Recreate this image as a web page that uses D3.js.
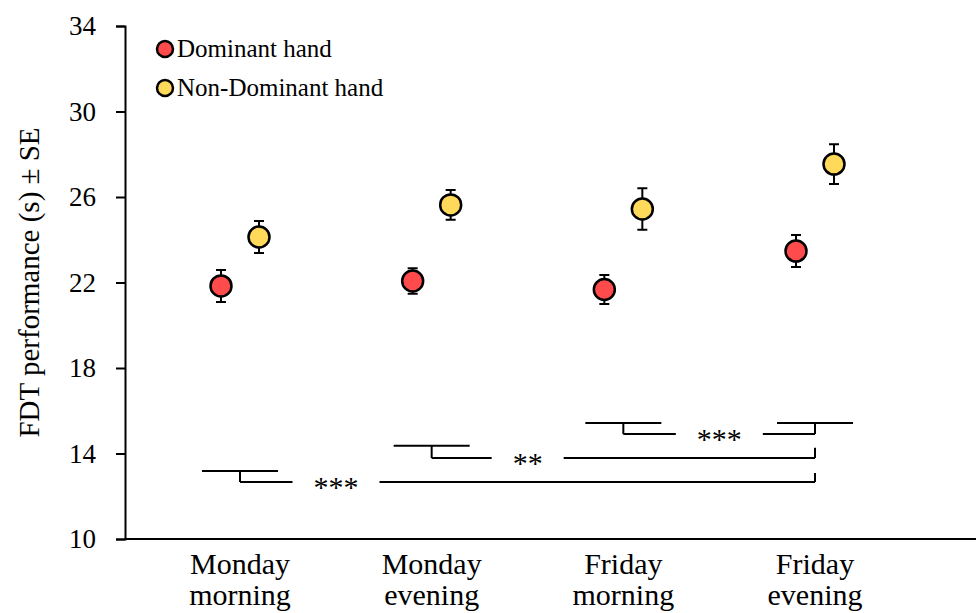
<!DOCTYPE html>
<html>
<head>
<meta charset="utf-8">
<script src="https://cdn.jsdelivr.net/npm/d3@7"></script>
<style>
  body { margin: 0; background: #fff; }
  text { font-family: "Liberation Serif", "Times New Roman", serif; fill: #000; }
</style>
</head>
<body>
<script>
	// data
	var categories = ["Monday morning", "Monday evening", "Friday morning", "Friday evening"];
	var catLines = [["Monday", "morning"], ["Monday", "evening"], ["Friday", "morning"], ["Friday", "evening"]];
	var dominantMean = [21.84, 22.07, 21.67, 23.47];
	var dominantSE = [0.75, 0.6, 0.68, 0.75];
	var nonDominantMean = [24.13, 25.63, 25.44, 27.54];
	var nonDominantSE = [0.75, 0.7, 0.97, 0.93];
	var yTicks = [10, 14, 18, 22, 26, 30, 34];
	var seriesNames = ["Dominant hand", "Non-Dominant hand"];
	var seriesColors = ["#ff4b4b", "#ffd95a"];
	// significance brackets: index of compared categories, levels in y units
	var comparisons = [
		{ a: 0, b: 3, label: "***", upper: 13.18, lower: 12.67, capB: false },
		{ a: 1, b: 3, label: "**", upper: 14.36, lower: 13.79, capB: false },
		{ a: 2, b: 3, label: "***", upper: 15.43, lower: 14.91, capB: true }
	];

	var svg_w = 976, svg_h = 613;
	var svg = d3.select("body").append("svg")
		.attr("width", svg_w)
		.attr("height", svg_h);

	var axisLeft = 125, axisBottom = 539, axisTop = 26;

	var x = d3.scalePoint()
		.domain(categories)
		.range([240, 815]);

	var y = d3.scaleLinear()
		.domain([10, 34])
		.range([axisBottom, axisTop]);

	var offset = 19;

	// y axis
	var yAxis = svg.append("g")
		.attr("transform", "translate(" + axisLeft + ",0)")
		.call(d3.axisLeft(y).tickValues(yTicks).tickSize(9).tickPadding(20));
	yAxis.select(".domain").attr("stroke", "#000").attr("stroke-width", 2);
	yAxis.selectAll(".tick line").attr("stroke", "#000").attr("stroke-width", 2);
	yAxis.selectAll(".tick text")
		.attr("font-size", 27)
		.attr("font-family", "Liberation Serif")
		.attr("fill", "#000");

	// x axis line (no ticks)
	svg.append("line")
		.attr("x1", axisLeft).attr("x2", svg_w)
		.attr("y1", axisBottom).attr("y2", axisBottom)
		.attr("stroke", "#000").attr("stroke-width", 2);

	// category labels
	var xl = svg.append("g").selectAll("text")
		.data(categories)
		.enter()
		.append("text")
		.attr("x", d => x(d))
		.attr("y", 574)
		.attr("text-anchor", "middle")
		.attr("font-size", 30);
	xl.each(function(d, i) {
		var t = d3.select(this);
		catLines[i].forEach(function(line, j) {
			t.append("tspan")
				.attr("x", x(d))
				.attr("dy", j == 0 ? 0 : 31)
				.text(line);
		});
	});

	// y axis title
	svg.append("text")
		.attr("transform", "translate(39," + ((axisTop + axisBottom) / 2) + ") rotate(-90)")
		.attr("text-anchor", "middle")
		.attr("font-size", 29)
		.text("FDT performance (s) \u00b1 SE");

	// significance brackets
	var br = svg.append("g").attr("stroke", "#000").attr("stroke-width", 2).attr("fill", "none");
	var labels = svg.append("g");
	comparisons.forEach(function(c) {
		var xa = x(categories[c.a]), xb = x(categories[c.b]);
		var yu = y(c.upper), yl = y(c.lower);
		// left cap
		br.append("line").attr("x1", xa - 38).attr("x2", xa + 38).attr("y1", yu).attr("y2", yu);
		br.append("line").attr("x1", xa).attr("x2", xa).attr("y1", yu).attr("y2", yl);
		// label
		var lx = xa + 96;
		var txt = labels.append("text")
			.attr("x", lx)
			.attr("y", yl + 15)
			.attr("text-anchor", "middle")
			.attr("font-family", "Liberation Sans")
			.attr("font-size", 30)
			.text(c.label);
		var half = txt.node().getComputedTextLength() / 2 + 21;
		br.append("line").attr("x1", xa).attr("x2", lx - half).attr("y1", yl).attr("y2", yl);
		br.append("line").attr("x1", lx + half).attr("x2", xb).attr("y1", yl).attr("y2", yl);
		// right end
		br.append("line").attr("x1", xb).attr("x2", xb).attr("y1", yl).attr("y2", c.capB ? yu : yu + 2);
		if (c.capB) {
			br.append("line").attr("x1", xb - 38).attr("x2", xb + 38).attr("y1", yu).attr("y2", yu);
		}
	});

	// points with error bars
	var series = [
		{ name: seriesNames[0], mean: dominantMean, se: dominantSE, color: seriesColors[0], dx: -offset },
		{ name: seriesNames[1], mean: nonDominantMean, se: nonDominantSE, color: seriesColors[1], dx: offset }
	];

	series.forEach(function(s) {
		var pts = categories.map(function(c, i) {
			return { cx: x(c) + s.dx, m: s.mean[i], se: s.se[i] };
		});
		var g = svg.append("g");
		g.selectAll("path.err")
			.data(pts)
			.enter()
			.append("path")
			.attr("class", "err")
			.attr("fill", "none")
			.attr("stroke", "#000")
			.attr("stroke-width", 2)
			.attr("d", function(d) {
				var t = y(d.m + d.se), b = y(d.m - d.se);
				return "M" + d.cx + "," + t + "V" + b +
					"M" + (d.cx - 5) + "," + t + "H" + (d.cx + 5) +
					"M" + (d.cx - 5) + "," + b + "H" + (d.cx + 5);
			});
		g.selectAll("circle")
			.data(pts)
			.enter()
			.append("circle")
			.attr("cx", d => d.cx)
			.attr("cy", d => y(d.m))
			.attr("r", 10.5)
			.attr("fill", s.color)
			.attr("stroke", "#000")
			.attr("stroke-width", 2.5);
	});

	// legend
	var legend = svg.append("g");
	series.forEach(function(s, i) {
		var ly = 49 + i * 39;
		legend.append("circle")
			.attr("cx", 165).attr("cy", ly).attr("r", 8)
			.attr("fill", s.color).attr("stroke", "#000").attr("stroke-width", 2.5);
		legend.append("text")
			.attr("x", 177).attr("y", ly + 8)
			.attr("font-size", 25)
			.text(s.name);
	});
</script>
</body>
</html>
